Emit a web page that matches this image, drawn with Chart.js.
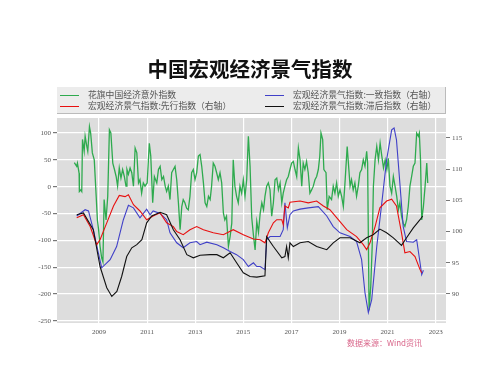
<!DOCTYPE html>
<html><head><meta charset="utf-8">
<script src="https://cdn.jsdelivr.net/npm/chart.js@4/dist/chart.umd.min.js"></script>
<style>
html,body{margin:0;padding:0;background:#fff;}
#wrap{position:relative;width:500px;height:375px;}
canvas{position:absolute;left:0;top:0;}
#title{position:absolute;left:0;width:500px;top:53px;text-align:center;font:bold 20.5px "Noto Sans CJK SC";color:#111;}
#legend{position:absolute;left:57px;top:87px;width:388px;height:26px;background:#ececec;border-right:1px solid #bbb;border-bottom:1px solid #bbb;}
.li{position:absolute;font:8.8px "Noto Sans CJK SC";color:#555;white-space:nowrap;line-height:11px;}
.ls{position:absolute;height:0;width:19px;border-top-width:1px;border-top-style:solid;}
#src{position:absolute;left:347px;top:337px;font:8px "Noto Sans CJK SC";color:#d9668a;white-space:nowrap;}
</style></head>
<body><div id="wrap">
<canvas id="c" width="500" height="375"></canvas>
<div id="title">中国宏观经济景气指数</div>
<div id="legend"></div>
<div id="src">数据来源：Wind资讯</div>
</div>
<script>
const seriesNames = ["花旗中国经济意外指数","宏观经济景气指数:一致指数（右轴）","宏观经济景气指数:先行指数（右轴）","宏观经济景气指数:滞后指数（右轴）"];
const seriesColors = ["#2eaa4e","#4040c8","#e81010","#111111"];
const xTicks = [2009,2011,2013,2015,2017,2019,2021,2023];
const leftTicks = [100,50,0,-50,-100,-150,-200,-250];
const rightTicks = [115,110,105,100,95,90];

const greenX = [2007.97,2008.07,2008.10,2008.17,2008.18,2008.24,2008.28,2008.31,2008.38,2008.42,2008.49,2008.53,2008.60,2008.65,2008.72,2008.80,2008.88,2008.93,2008.98,2009.04,2009.11,2009.16,2009.21,2009.29,2009.36,2009.43,2009.49,2009.57,2009.64,2009.71,2009.77,2009.84,2009.91,2009.98,2010.05,2010.12,2010.16,2010.22,2010.29,2010.36,2010.43,2010.50,2010.57,2010.64,2010.70,2010.77,2010.84,2010.91,2011.00,2011.09,2011.15,2011.23,2011.30,2011.40,2011.47,2011.54,2011.61,2011.68,2011.75,2011.81,2011.88,2011.95,2012.02,2012.09,2012.16,2012.23,2012.30,2012.37,2012.44,2012.50,2012.57,2012.64,2012.71,2012.78,2012.85,2012.92,2012.99,2013.06,2013.13,2013.20,2013.27,2013.34,2013.41,2013.48,2013.55,2013.62,2013.68,2013.75,2013.82,2013.89,2013.96,2014.03,2014.10,2014.17,2014.23,2014.30,2014.38,2014.45,2014.52,2014.58,2014.65,2014.72,2014.79,2014.86,2014.93,2015.00,2015.07,2015.14,2015.21,2015.28,2015.35,2015.42,2015.49,2015.56,2015.63,2015.70,2015.77,2015.84,2015.90,2015.97,2016.04,2016.11,2016.18,2016.25,2016.32,2016.39,2016.46,2016.53,2016.60,2016.66,2016.73,2016.80,2016.87,2016.94,2017.01,2017.08,2017.15,2017.22,2017.29,2017.36,2017.43,2017.49,2017.56,2017.63,2017.70,2017.77,2017.84,2017.91,2017.98,2018.05,2018.12,2018.18,2018.23,2018.30,2018.35,2018.44,2018.49,2018.57,2018.67,2018.74,2018.81,2018.88,2018.95,2019.02,2019.09,2019.16,2019.22,2019.32,2019.39,2019.44,2019.50,2019.57,2019.64,2019.71,2019.78,2019.85,2019.92,2019.99,2020.06,2020.13,2020.17,2020.23,2020.30,2020.36,2020.41,2020.48,2020.55,2020.62,2020.69,2020.76,2020.83,2020.90,2020.97,2021.03,2021.10,2021.17,2021.24,2021.31,2021.38,2021.45,2021.51,2021.58,2021.65,2021.72,2021.79,2021.86,2021.93,2022.00,2022.07,2022.14,2022.21,2022.28,2022.32,2022.37,2022.42,2022.49,2022.56,2022.63,2022.67];
const greenY = [45,38,44,25,-9,-6,-9,88,66,94,75,66,112,100,63,50,-18,-62,-80,-111,-133,-140,-24,-62,-18,106,100,44,32,19,1,35,16,32,19,1,32,23,35,26,1,72,63,7,13,-12,7,1,7,81,57,-30,19,7,32,38,13,19,1,-9,1,-24,26,32,38,13,-30,-80,-37,-24,-30,-40,-43,-18,26,32,13,26,57,60,38,7,-30,-37,-18,-24,1,44,38,26,13,26,7,-49,-62,-55,-111,-93,-68,50,1,-18,-30,1,-12,13,-18,13,94,38,-58,-90,-118,-65,-85,-50,-30,-43,-18,1,7,-6,-55,-30,13,16,-6,7,-30,-12,1,13,19,32,44,47,32,19,72,50,1,44,32,47,26,-12,-6,1,13,19,32,57,100,88,32,26,-43,-18,-24,1,-12,7,-18,-6,-18,-37,1,75,32,1,13,-6,7,-18,1,26,32,50,38,66,44,-230,-186,-111,1,50,75,50,81,57,35,50,32,53,1,-12,19,1,-18,-43,-30,-55,-68,-74,-62,-37,1,19,38,44,100,94,100,50,-62,-37,1,44,7];

const blueX = [2008.07,2008.42,2008.56,2008.76,2008.97,2009.11,2009.46,2009.73,2010.01,2010.22,2010.43,2010.70,2010.98,2011.12,2011.25,2011.54,2011.81,2011.95,2012.23,2012.50,2012.78,2013.06,2013.20,2013.48,2013.90,2014.17,2014.45,2014.72,2015.00,2015.21,2015.42,2015.56,2015.70,2015.90,2015.97,2016.11,2016.53,2016.66,2016.73,2016.83,2016.94,2017.08,2017.36,2017.70,2018.12,2018.47,2018.74,2019.02,2019.44,2019.71,2019.92,2020.06,2020.20,2020.34,2020.55,2020.76,2020.96,2021.17,2021.27,2021.37,2021.52,2021.65,2021.79,2022.07,2022.21,2022.35,2022.42,2022.49];
const blueY = [102.5,103.5,103.3,100.3,96.6,94.2,95.5,97.6,101.9,104.2,103.8,102.2,103.6,102.7,103.3,102.9,101.9,99.8,98.2,97.4,98.2,98.4,97.9,98.3,97.9,97.4,96.8,96.3,95.5,94.4,95.0,94.4,94.4,93.9,98.7,99.2,99.2,100.3,104.6,100.6,102.7,103.3,103.6,103.8,104.0,102.5,100.8,99.8,99.2,98.4,95.5,90.2,87.0,89.1,97.6,104.6,111.5,116.3,116.6,114.7,107.3,100.8,98.4,98.3,98.7,95.0,93.1,93.8];

const redX = [2008.07,2008.35,2008.63,2008.90,2009.04,2009.32,2009.60,2009.84,2010.08,2010.22,2010.43,2010.70,2010.98,2011.25,2011.54,2011.81,2012.09,2012.23,2012.50,2012.78,2013.06,2013.34,2013.75,2014.17,2014.58,2015.00,2015.42,2015.70,2015.90,2016.04,2016.25,2016.39,2016.60,2016.66,2016.73,2016.87,2016.94,2017.36,2017.70,2018.05,2018.33,2018.60,2018.95,2019.30,2019.71,2019.99,2020.13,2020.27,2020.48,2020.68,2020.96,2021.17,2021.37,2021.58,2021.72,2021.93,2022.14,2022.35,2022.42];
const redY = [102.2,102.7,100.8,97.9,98.7,101.4,104.1,105.8,105.6,105.9,104.3,103.3,101.9,102.5,103.0,101.4,100.8,100.0,99.5,100.3,100.8,100.3,99.8,99.5,100.3,99.5,98.8,98.7,98.2,99.8,101.4,101.9,101.9,101.1,104.1,103.8,104.7,104.9,104.6,104.9,104.1,103.5,101.9,100.3,99.2,97.9,97.1,98.2,100.8,103.8,104.9,105.2,104.1,99.8,96.6,96.8,96.0,93.9,93.4];

const blackX = [2008.07,2008.35,2008.76,2009.04,2009.32,2009.53,2009.74,2009.94,2010.15,2010.36,2010.57,2010.78,2010.98,2011.19,2011.54,2011.81,2012.09,2012.37,2012.65,2012.92,2013.20,2013.62,2013.90,2014.17,2014.45,2014.72,2015.00,2015.28,2015.56,2015.90,2015.97,2016.25,2016.60,2016.73,2016.80,2016.87,2016.94,2017.08,2017.36,2017.70,2018.05,2018.47,2018.74,2019.02,2019.44,2019.85,2020.13,2020.40,2020.68,2020.96,2021.24,2021.58,2021.79,2022.07,2022.35,2022.46];
const blackY = [102.7,103.0,100.3,94.4,91.0,89.6,90.4,92.8,96.0,97.4,97.9,98.7,101.4,102.5,103.1,102.7,100.3,98.7,96.3,95.8,96.2,96.3,96.3,95.8,96.6,95.0,93.4,92.8,92.7,92.9,99.2,97.6,95.8,96.0,97.6,95.8,98.2,97.6,98.2,98.4,97.6,97.1,98.2,99.0,99.0,98.2,99.0,99.5,100.4,99.8,99.0,97.8,99.0,100.6,101.9,102.5];

function pts(xs, ys){ return xs.map((x,i)=>({x:x,y:ys[i]})); }

// legend (HTML): two columns, two rows
const lg = document.getElementById('legend');
const pos = {0:[0,0],1:[1,0],2:[0,1],3:[1,1]};
[0,1,2,3].forEach(i=>{
  const [col,row] = pos[i];
  const s = document.createElement('div'); s.className='ls';
  s.style.left = (col? 208: 3)+'px'; s.style.top = (row? 19: 8)+'px'; s.style.borderTopColor = seriesColors[i];
  lg.appendChild(s);
  const t = document.createElement('div'); t.className='li';
  t.style.left = (col? 236: 31)+'px'; t.style.top = (row? 13: 2)+'px'; t.textContent = seriesNames[i];
  lg.appendChild(t);
});

const bgPlugin = {id:'bg', beforeDraw(chart){const a=chart.chartArea,c=chart.ctx;c.save();c.fillStyle='#dddddd';c.fillRect(a.left,a.top,a.right-a.left,a.bottom-a.top);c.restore();}};
const tickFont = {family:'"Liberation Serif"', size:7};
function fixTicks(vals){ return function(scale){ scale.ticks = vals.map(v=>({value:v})); }; }

new Chart(document.getElementById('c'), {
  type:'line',
  data:{datasets:[
    {label:seriesNames[0], data:pts(greenX,greenY), yAxisID:'yL', borderColor:seriesColors[0], borderWidth:1.3, order:4},
    {label:seriesNames[1], data:pts(blueX,blueY), yAxisID:'yR', borderColor:seriesColors[1], borderWidth:1.1, order:3},
    {label:seriesNames[2], data:pts(redX,redY), yAxisID:'yR', borderColor:seriesColors[2], borderWidth:1.1, order:2},
    {label:seriesNames[3], data:pts(blackX,blackY), yAxisID:'yR', borderColor:seriesColors[3], borderWidth:1.1, order:1}
  ]},
  options:{
    responsive:false, animation:false, devicePixelRatio:1,
    elements:{point:{radius:0}, line:{tension:0, fill:false}},
    layout:{padding:{top:118,left:0,right:0,bottom:0}},
    plugins:{legend:{display:false}, title:{display:false}, tooltip:{enabled:false}},
    scales:{
      x:{type:'linear', min:2007.25, max:2023.43, afterBuildTicks:fixTicks(xTicks),
        afterFit(s){s.height=52;},
        grid:{color:'#ffffff', lineWidth:1.2, tickColor:'rgba(0,0,0,0)', tickLength:3},
        border:{display:false},
        ticks:{font:tickFont, color:'#555', padding:2, maxRotation:0, autoSkip:false, callback:v=>String(v)}},
      yL:{type:'linear', position:'left', min:-254, max:128, afterBuildTicks:fixTicks(leftTicks),
        afterFit(s){s.width=57;},
        grid:{color:'#ffffff', lineWidth:1.2, tickColor:'#777', tickLength:4},
        border:{display:false},
        ticks:{font:tickFont, color:'#555', padding:2, autoSkip:false}},
      yR:{type:'linear', position:'right', min:85.35, max:118.2, afterBuildTicks:fixTicks(rightTicks),
        afterFit(s){s.width=54;},
        grid:{drawOnChartArea:false, tickColor:'#777', tickLength:4},
        border:{display:false},
        ticks:{font:tickFont, color:'#555', padding:2, autoSkip:false}}
    }
  },
  plugins:[bgPlugin]
});
</script>
</body></html>
